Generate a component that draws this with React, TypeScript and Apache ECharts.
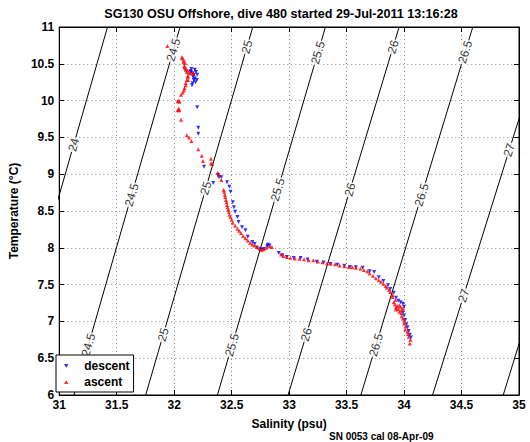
import React, { useEffect, useRef } from "react";
import * as echarts from "echarts";

const TITLE = "SG130 OSU Offshore, dive 480 started 29-Jul-2011 13:16:28";
const X_NAME = "Salinity (psu)";
const Y_NAME = "Temperature (°C)";
const FOOTNOTE = "SN 0053 cal 08-Apr-09";
const X_RANGE = [31, 35];
const Y_RANGE = [6, 11];
const TICK_STEP = 0.5;

// isopycnal (sigma-t) lines, read where they cross T = 6 °C and T = 11 °C
const SIGMA_LEVELS = [24, 24.5, 25, 25.5, 26, 26.5, 27, 27.5];
const SAL_AT_6C = [30.5, 31.128, 31.752, 32.376, 32.991, 33.624, 34.248, 34.863];
const SAL_AT_11C = [31.42, 32.051, 32.684, 33.316, 33.957, 34.598, 35.25, 35.85];

// inline contour labels: level and temperature where the label sits
const LABEL_LEVELS = [24, 24.5, 24.5, 24.5, 25, 25, 25, 25.5, 25.5, 25.5, 26, 26, 26, 26.5, 26.5, 26.5, 27, 27];
const LABEL_TEMPS = [9.4, 10.69, 8.72, 6.68, 10.73, 8.81, 6.82, 10.65, 8.79, 6.68, 10.73, 8.79, 6.82, 10.66, 8.72, 6.68, 9.33, 7.35];

const DESCENT = [
  [32.145, 10.39], [32.16, 10.37], [32.17, 10.35], [32.165, 10.32], [32.17, 10.28], [32.16, 10.235],
  [32.155, 10.21], [32.19, 10.39], [32.197, 10.28], [32.18, 10.42], [32.15, 10.43], [32.2, 10.35],
  [32.18, 10.3], [32.185, 10.25], [32.14, 10.4], [32.2, 9.91], [32.21, 9.63], [32.21, 9.55],
  [32.26, 9.1], [32.34, 8.88], [32.38, 8.99], [32.39, 8.96], [32.41, 8.96], [32.46, 8.89],
  [32.48, 8.83], [32.49, 8.76], [32.51, 8.62], [32.52, 8.55], [32.53, 8.49], [32.55, 8.42],
  [32.56, 8.35], [32.59, 8.28], [32.62, 8.24], [32.64, 8.15], [32.68, 8.08], [32.7, 8.05],
  [32.72, 8.0], [32.75, 7.98], [32.76, 7.97], [32.78, 7.985], [32.81, 8.02], [32.815, 8.04],
  [32.83, 8.03], [32.91, 7.93], [32.94, 7.9], [32.98, 7.875], [33.04, 7.86], [33.1, 7.86],
  [33.16, 7.84], [33.24, 7.81], [33.3, 7.8], [33.36, 7.78], [33.42, 7.77], [33.48, 7.755],
  [33.53, 7.74], [33.58, 7.735], [33.64, 7.73], [33.7, 7.68], [33.74, 7.67], [33.78, 7.6],
  [33.82, 7.55], [33.86, 7.49], [33.88, 7.44], [33.91, 7.39], [33.93, 7.32], [33.95, 7.28],
  [33.97, 7.26], [33.99, 7.24], [34.0, 7.2], [33.99, 7.12], [34.0, 7.08], [34.01, 7.02],
  [34.02, 6.96], [34.03, 6.92], [34.04, 6.87], [34.05, 6.82], [34.06, 6.78],
];

const ASCENT = [
  [34.05, 6.7], [34.055, 6.75], [34.04, 6.79], [34.035, 6.83], [34.03, 6.86], [34.01, 6.89],
  [34.015, 6.93], [34.0, 6.97], [34.0, 7.01], [33.99, 7.04], [33.98, 7.07], [33.975, 7.11],
  [33.96, 7.13], [33.98, 7.155], [33.95, 7.17], [33.93, 7.19], [33.94, 7.21], [33.92, 7.23],
  [33.96, 7.22], [33.97, 7.2], [33.91, 7.26], [33.925, 7.29], [33.93, 7.16], [33.99, 7.18],
  [33.9, 7.33], [33.9, 7.36], [33.88, 7.4], [33.87, 7.43], [33.85, 7.46], [33.84, 7.48],
  [33.82, 7.51], [33.8, 7.54], [33.78, 7.56], [33.755, 7.585], [33.73, 7.62], [33.7, 7.65],
  [33.68, 7.68], [33.65, 7.7], [33.62, 7.72], [33.58, 7.73], [33.55, 7.735], [33.52, 7.74],
  [33.48, 7.75], [33.44, 7.76], [33.4, 7.775], [33.36, 7.785], [33.33, 7.79], [33.29, 7.805],
  [33.25, 7.815], [33.21, 7.83], [33.17, 7.83], [33.13, 7.845], [33.09, 7.85], [33.05, 7.855],
  [33.01, 7.865], [32.98, 7.875], [32.95, 7.89], [32.93, 7.91], [32.85, 8.01], [32.83, 8.02],
  [32.8, 8.0], [32.78, 7.98], [32.76, 7.975], [32.74, 7.99], [32.72, 8.01], [32.7, 8.03],
  [32.68, 8.045], [32.66, 8.07], [32.64, 8.1], [32.62, 8.13], [32.6, 8.16], [32.58, 8.2],
  [32.565, 8.23], [32.55, 8.26], [32.53, 8.3], [32.51, 8.34], [32.5, 8.38], [32.49, 8.42],
  [32.48, 8.45], [32.475, 8.49], [32.47, 8.52], [32.465, 8.55], [32.46, 8.58], [32.455, 8.62],
  [32.45, 8.65], [32.445, 8.69], [32.44, 8.72], [32.435, 8.76], [32.43, 8.79], [32.41, 8.92],
  [32.39, 8.99], [32.38, 9.02], [32.33, 9.14], [32.32, 9.21], [32.32, 9.15], [32.24, 9.25],
  [32.25, 9.18], [32.21, 9.34], [32.15, 9.45], [32.13, 9.5], [32.11, 9.53], [32.06, 9.74],
  [32.04, 9.89], [32.03, 9.99], [32.04, 10.0], [32.045, 9.985], [32.03, 9.87], [32.045, 9.87],
  [32.06, 10.08], [32.074, 10.11], [32.09, 10.17], [32.1, 10.21], [32.11, 10.28], [32.117, 10.325],
  [32.12, 10.28], [32.1, 10.24], [32.085, 10.14], [32.13, 10.37], [32.16, 10.37], [32.17, 10.36],
  [32.117, 10.41], [32.1, 10.44], [32.088, 10.47], [32.094, 10.51], [32.083, 10.55], [32.066, 10.575],
  [32.07, 10.59], [32.08, 10.52], [32.09, 10.45], [32.11, 10.39], [32.1, 10.42], [32.14, 10.38],
  [32.12, 10.33], [31.94, 10.742],
];

const FONT = "'Liberation Sans', Arial, Helvetica, sans-serif";
const GRID = { left: 51, top: 27, width: 468, height: 368 };

export default function App() {
  const ref = useRef<HTMLDivElement>(null);
  useEffect(() => {
    if (!ref.current) return;
    const chart = echarts.init(ref.current, null, { renderer: "svg" });

    const contourSeries = SIGMA_LEVELS.map((lvl, i) => ({
      type: "line",
      name: "sigma" + lvl,
      data: [[SAL_AT_6C[i], Y_RANGE[0]], [SAL_AT_11C[i], Y_RANGE[1]]],
      showSymbol: false,
      symbol: "none",
      silent: true,
      clip: true,
      z: 2,
      lineStyle: { color: "#000", width: 1 },
      emphasis: { disabled: true },
    }));

    const pxPerX = GRID.width / (X_RANGE[1] - X_RANGE[0]);
    const pxPerY = GRID.height / (Y_RANGE[1] - Y_RANGE[0]);
    const labelData = LABEL_LEVELS.map((lvl, k) => {
      const i = SIGMA_LEVELS.indexOf(lvl);
      const t = LABEL_TEMPS[k];
      const s = SAL_AT_6C[i] + ((SAL_AT_11C[i] - SAL_AT_6C[i]) * (t - Y_RANGE[0])) / (Y_RANGE[1] - Y_RANGE[0]);
      const dx = (SAL_AT_11C[i] - SAL_AT_6C[i]) * pxPerX;
      const dy = (Y_RANGE[1] - Y_RANGE[0]) * pxPerY;
      const ang = (Math.atan2(dy, dx) * 180) / Math.PI;
      return {
        value: [s, t],
        label: { rotate: ang, formatter: String(lvl) },
      };
    });

    const axisLabelStyle = { fontFamily: FONT, fontWeight: "bold", fontSize: 12, color: "#000" };
    const splitLine = { show: true, lineStyle: { color: "#8a8a8a", width: 1, type: [1, 3] } };

    chart.setOption({
      animation: false,
      backgroundColor: "#fff",
      title: {
        text: TITLE,
        left: 281,
        top: 7,
        padding: 0,
        textAlign: "center",
        textStyle: { fontFamily: FONT, fontWeight: "bold", fontSize: 12.6, color: "#000" },
      },
      legend: {
        data: ["descent", "ascent"],
        orient: "vertical",
        left: 56,
        top: 355,
        padding: [3, 4, 2, 8],
        itemWidth: 26,
        itemHeight: 4,
        itemGap: 0,
        borderColor: "#000",
        borderWidth: 1,
        backgroundColor: "#fff",
        textStyle: { fontFamily: FONT, fontWeight: "bold", fontSize: 12, lineHeight: 16, color: "#000" },
      },
      grid: { ...GRID, show: true, borderColor: "#000", borderWidth: 1, backgroundColor: "#fff", containLabel: false },
      xAxis: [
        {
          type: "value",
          min: X_RANGE[0],
          max: X_RANGE[1],
          interval: TICK_STEP,
          position: "bottom",
          name: X_NAME,
          nameLocation: "middle",
          nameGap: 23,
          nameTextStyle: { fontFamily: FONT, fontWeight: "bold", fontSize: 12, color: "#000" },
          axisLine: { show: true, onZero: false, lineStyle: { color: "#000" } },
          axisTick: { show: true, inside: true, length: 5, lineStyle: { color: "#000" } },
          axisLabel: { ...axisLabelStyle, margin: 4 },
          splitLine,
        },
        {
          type: "value",
          min: X_RANGE[0],
          max: X_RANGE[1],
          interval: TICK_STEP,
          position: "top",
          axisLine: { show: true, onZero: false, lineStyle: { color: "#000" } },
          axisTick: { show: true, inside: true, length: 5, lineStyle: { color: "#000" } },
          axisLabel: { show: false },
          splitLine: { show: false },
        },
      ],
      yAxis: [
        {
          type: "value",
          min: Y_RANGE[0],
          max: Y_RANGE[1],
          interval: TICK_STEP,
          position: "left",
          name: Y_NAME,
          nameLocation: "middle",
          nameGap: 38,
          nameRotate: 90,
          nameTextStyle: { fontFamily: FONT, fontWeight: "bold", fontSize: 12, color: "#000" },
          axisLine: { show: true, onZero: false, lineStyle: { color: "#000" } },
          axisTick: { show: true, inside: true, length: 5, lineStyle: { color: "#000" } },
          axisLabel: { ...axisLabelStyle, margin: 5 },
          splitLine,
        },
        {
          type: "value",
          min: Y_RANGE[0],
          max: Y_RANGE[1],
          interval: TICK_STEP,
          position: "right",
          axisLine: { show: true, onZero: false, lineStyle: { color: "#000" } },
          axisTick: { show: true, inside: true, length: 5, lineStyle: { color: "#000" } },
          axisLabel: { show: false },
          splitLine: { show: false },
        },
      ],
      graphic: [
        {
          type: "text",
          x: 329,
          y: 436,
          style: {
            text: FOOTNOTE,
            fontFamily: FONT,
            fontWeight: "bold",
            fontSize: 10,
            fill: "#000",
            verticalAlign: "middle",
            align: "left",
          },
        },
      ],
      series: [
        ...contourSeries,
        {
          type: "scatter",
          name: "labels",
          data: labelData,
          symbolSize: 0,
          silent: true,
          z: 3,
          label: {
            show: true,
            position: "inside",
            fontFamily: FONT,
            fontSize: 12,
            color: "#000",
            textBorderWidth: 0,
            textBorderColor: "transparent",
            backgroundColor: "#fff",
            padding: [0, 1],
          },
          emphasis: { disabled: true },
        },
        {
          type: "scatter",
          name: "descent",
          data: DESCENT,
          symbol: "path://M0,0L10,0L5,9Z",
          symbolSize: 4,
          itemStyle: { color: "#0000ff" },
          z: 4,
        },
        {
          type: "scatter",
          name: "ascent",
          data: ASCENT,
          symbol: "path://M5,0L10,9L0,9Z",
          symbolSize: 4,
          itemStyle: { color: "#ff0000" },
          z: 5,
        },
      ],
    });
    return () => chart.dispose();
  }, []);

  return <div ref={ref} style={{ position: "fixed", left: 0, top: 0, width: 530, height: 442 }} />;
}
